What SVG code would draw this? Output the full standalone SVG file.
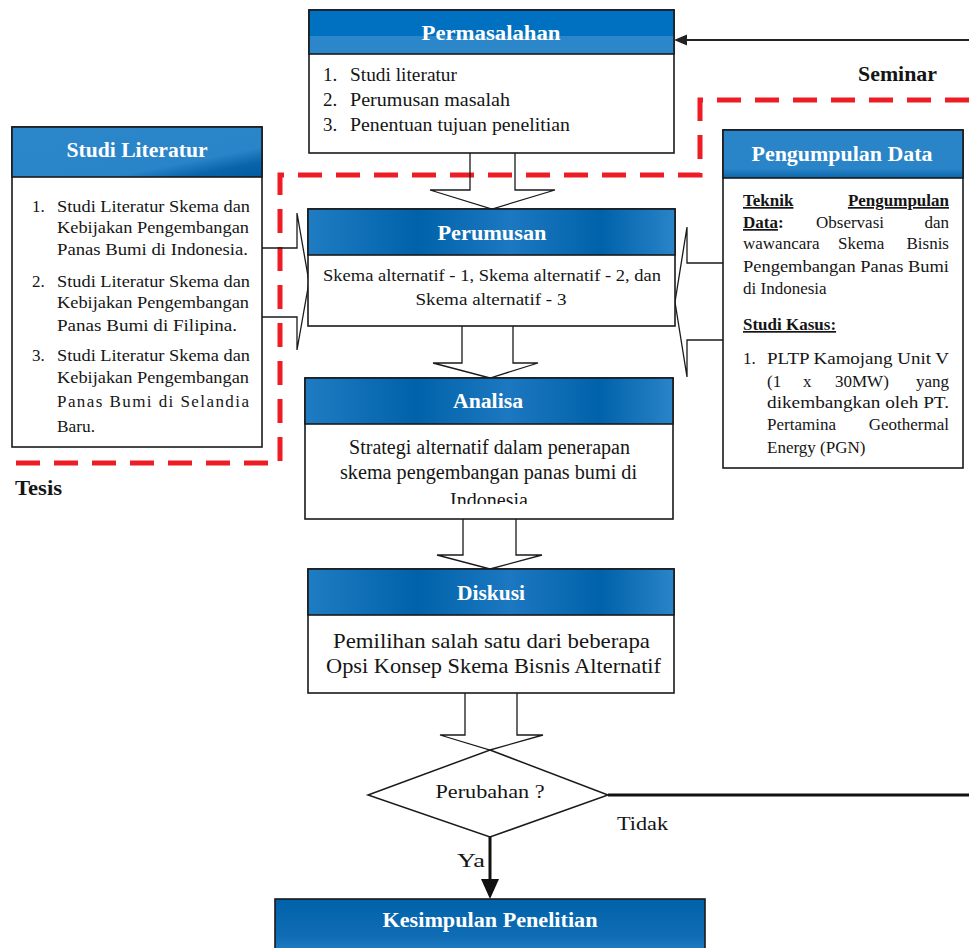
<svg xmlns="http://www.w3.org/2000/svg" width="969" height="948" viewBox="0 0 969 948">
<style>
.ttl{font-family:"Liberation Serif","Times New Roman",serif;font-weight:bold;fill:#fff;font-size:20px;text-anchor:middle}
.tx{font-family:"Liberation Serif","Times New Roman",serif;fill:#151515}
.b{font-weight:bold}
.u{text-decoration:underline}
.box{fill:#fff;stroke:#1a1a1a;stroke-width:1.6}
.hdl{stroke:#1a1a1a;stroke-width:1.6}
.blk{fill:none;stroke:#1a1a1a;stroke-width:1.3;stroke-linejoin:miter}
.red{fill:none;stroke:#EE1D25;stroke-width:5;stroke-dasharray:24 14}
</style>
<defs>
<linearGradient id="gPerm" x1="0" y1="0" x2="0" y2="1">
<stop offset="0" stop-color="#0070C0"/><stop offset="0.58" stop-color="#0070C0"/><stop offset="0.6" stop-color="#2C86CA"/><stop offset="1" stop-color="#2C86CA"/>
</linearGradient>
<linearGradient id="gLit" x1="0" y1="0" x2="1" y2="1">
<stop offset="0" stop-color="#2C86CA"/><stop offset="0.7" stop-color="#2A84C8"/><stop offset="0.85" stop-color="#0A64AA"/><stop offset="1" stop-color="#005BA2"/>
</linearGradient>
<linearGradient id="gPeng" x1="0" y1="0" x2="0" y2="1">
<stop offset="0" stop-color="#2A84C8"/><stop offset="0.8" stop-color="#2A84C8"/><stop offset="1" stop-color="#0A66AC"/>
</linearGradient>
<linearGradient id="gMid" x1="0" y1="0" x2="1" y2="0">
<stop offset="0" stop-color="#1F7CC2"/><stop offset="0.3" stop-color="#0062AA"/><stop offset="0.55" stop-color="#1C78C0"/><stop offset="0.8" stop-color="#0062AA"/><stop offset="1" stop-color="#2A84C8"/>
</linearGradient>
<linearGradient id="gKes" x1="0" y1="0" x2="0" y2="1">
<stop offset="0" stop-color="#0062AA"/><stop offset="0.6" stop-color="#0E6CB4"/><stop offset="1" stop-color="#2A84C8"/>
</linearGradient>
<clipPath id="clipAn"><rect x="305" y="378" width="368" height="126"/></clipPath>
</defs>
<rect x="0" y="0" width="969" height="948" fill="#fff"/>

<g id="connectors">
<path class="red" d="M969,100 H700 V175 H280 V463 H10"/>
<path d="M969,40 H684" stroke="#222" stroke-width="2"/>
<polygon points="674,40 687,34.5 687,45.5" fill="#222"/>
<path class="blk" d="M470,153 V190 H430 L492,209 L555,190 H515 V153"/>
<path class="blk" d="M262,248 H297 V213 L309,282 L297,350 V317 H262"/>
<path class="blk" d="M723,263 H687 V227 L675,302 L687,377 V340 H723"/>
<path class="blk" d="M462,326 V363 H433 L490,378 L538,363 H513 V326"/>
<path class="blk" d="M463,519 V555 H437 L490,569 L542,555 H516 V519"/>
<path class="blk" d="M465,693 V735 H440 L490,750 L543,735 H517 V693"/>
<path d="M608,795 H969" stroke="#111" stroke-width="3"/>
<path d="M490,837 V882" stroke="#111" stroke-width="3"/>
<polygon points="481,879 499,879 490,899" fill="#111"/>
</g>

<g id="permasalahan">
<rect class="box" x="309" y="10" width="365" height="143"/>
<rect x="309" y="10" width="365" height="44" fill="url(#gPerm)" stroke="#1a1a1a" stroke-width="1.6"/>
<text class="ttl" x="491" y="40" textLength="139" lengthAdjust="spacingAndGlyphs">Permasalahan</text>
<g class="tx" font-size="19">
<text x="323" y="81">1.</text><text x="350" y="81" textLength="107" lengthAdjust="spacingAndGlyphs">Studi literatur</text>
<text x="323" y="106">2.</text><text x="350" y="106" textLength="160" lengthAdjust="spacingAndGlyphs">Perumusan masalah</text>
<text x="323" y="131">3.</text><text x="350" y="131" textLength="220" lengthAdjust="spacingAndGlyphs">Penentuan tujuan penelitian</text>
</g>
</g>

<g id="studi-literatur">
<rect class="box" x="12" y="127" width="250" height="320"/>
<rect x="12" y="127" width="250" height="50" fill="url(#gLit)" stroke="#1a1a1a" stroke-width="1.6"/>
<text class="ttl" x="137" y="157" textLength="141" lengthAdjust="spacingAndGlyphs">Studi Literatur</text>
<g class="tx" font-size="17">
<text x="32" y="212">1.</text>
<text x="57" y="212" textLength="193" lengthAdjust="spacingAndGlyphs">Studi Literatur Skema dan</text>
<text x="57" y="233" textLength="192" lengthAdjust="spacingAndGlyphs">Kebijakan Pengembangan</text>
<text x="57" y="255" textLength="191" lengthAdjust="spacingAndGlyphs">Panas Bumi di Indonesia.</text>
<text x="32" y="287">2.</text>
<text x="57" y="287" textLength="193" lengthAdjust="spacingAndGlyphs">Studi Literatur Skema dan</text>
<text x="57" y="308" textLength="192" lengthAdjust="spacingAndGlyphs">Kebijakan Pengembangan</text>
<text x="57" y="331" textLength="180" lengthAdjust="spacingAndGlyphs">Panas Bumi di Filipina.</text>
<text x="32" y="361">3.</text>
<text x="57" y="361" textLength="193" lengthAdjust="spacingAndGlyphs">Studi Literatur Skema dan</text>
<text x="57" y="383" textLength="192" lengthAdjust="spacingAndGlyphs">Kebijakan Pengembangan</text>
<text x="57" y="407" textLength="192" lengthAdjust="spacing">Panas Bumi di Selandia</text>
<text x="57" y="432" textLength="38" lengthAdjust="spacingAndGlyphs">Baru.</text>
</g>
</g>

<g id="pengumpulan-data">
<rect class="box" x="723" y="130" width="240" height="338"/>
<rect x="723" y="130" width="240" height="48" fill="url(#gPeng)" stroke="#1a1a1a" stroke-width="1.6"/>
<text class="ttl" x="842" y="161" textLength="181" lengthAdjust="spacingAndGlyphs">Pengumpulan Data</text>
<g class="tx" font-size="17">
<text class="b u" x="743" y="206">Teknik</text>
<text class="b u" x="949" y="206" text-anchor="end">Pengumpulan</text>
<text class="b" x="743" y="228"><tspan class="u">Data</tspan>:</text>
<text x="816" y="228">Observasi</text>
<text x="949" y="228" text-anchor="end">dan</text>
<text x="743" y="249">wawancara</text>
<text x="838" y="249">Skema</text>
<text x="949" y="249" text-anchor="end">Bisnis</text>
<text x="743" y="272" textLength="206" lengthAdjust="spacingAndGlyphs">Pengembangan Panas Bumi</text>
<text x="743" y="294">di Indonesia</text>
<text class="b u" x="743" y="330">Studi Kasus:</text>
<text x="743" y="364">1.</text>
<text x="767" y="364" textLength="182" lengthAdjust="spacingAndGlyphs">PLTP Kamojang Unit V</text>
<text x="767" y="387">(1</text>
<text x="803" y="387">x</text>
<text x="835" y="387">30MW)</text>
<text x="949" y="387" text-anchor="end">yang</text>
<text x="767" y="408" textLength="182" lengthAdjust="spacingAndGlyphs">dikembangkan oleh PT.</text>
<text x="767" y="430">Pertamina</text>
<text x="949" y="430" text-anchor="end">Geothermal</text>
<text x="767" y="453">Energy (PGN)</text>
</g>
</g>

<g id="perumusan">
<rect class="box" x="308" y="209" width="367" height="117"/>
<rect x="308" y="209" width="367" height="46" fill="url(#gMid)" stroke="#1a1a1a" stroke-width="1.6"/>
<text class="ttl" x="492" y="240" textLength="109" lengthAdjust="spacingAndGlyphs">Perumusan</text>
<g class="tx" font-size="17">
<text x="323" y="281" textLength="338" lengthAdjust="spacingAndGlyphs">Skema alternatif - 1, Skema alternatif - 2, dan</text>
<text x="491" y="305" text-anchor="middle" textLength="151" lengthAdjust="spacingAndGlyphs">Skema alternatif - 3</text>
</g>
</g>

<g id="analisa">
<rect class="box" x="305" y="378" width="368" height="141"/>
<rect x="305" y="378" width="368" height="46" fill="url(#gMid)" stroke="#1a1a1a" stroke-width="1.6"/>
<text class="ttl" x="488" y="408" textLength="70" lengthAdjust="spacingAndGlyphs">Analisa</text>
<g class="tx" font-size="20" text-anchor="middle">
<text x="489.5" y="454" textLength="281" lengthAdjust="spacingAndGlyphs">Strategi alternatif dalam penerapan</text>
<text x="488.5" y="479" textLength="297" lengthAdjust="spacingAndGlyphs">skema pengembangan panas bumi di</text>
<text x="489" y="507" textLength="78" lengthAdjust="spacingAndGlyphs" clip-path="url(#clipAn)">Indonesia</text>
</g>
</g>

<g id="diskusi">
<rect class="box" x="308" y="569" width="366" height="124"/>
<rect x="308" y="569" width="366" height="46" fill="url(#gMid)" stroke="#1a1a1a" stroke-width="1.6"/>
<text class="ttl" x="491" y="600" textLength="68" lengthAdjust="spacingAndGlyphs">Diskusi</text>
<g class="tx" font-size="21" text-anchor="middle">
<text x="491.5" y="648" textLength="317" lengthAdjust="spacingAndGlyphs">Pemilihan salah satu dari beberapa</text>
<text x="493.5" y="673" textLength="335" lengthAdjust="spacingAndGlyphs">Opsi Konsep Skema Bisnis Alternatif</text>
</g>
</g>

<g id="perubahan">
<polygon points="490,750 608,795 490,837 368,795" fill="#fff" stroke="#1a1a1a" stroke-width="1.5"/>
<text class="tx" font-size="18" x="490" y="798" text-anchor="middle" textLength="109" lengthAdjust="spacingAndGlyphs">Perubahan ?</text>
</g>

<g id="kesimpulan">
<rect x="275" y="899" width="430" height="60" fill="url(#gKes)" stroke="#1a1a1a" stroke-width="1.6"/>
<text class="ttl" x="490" y="927" textLength="215" lengthAdjust="spacingAndGlyphs">Kesimpulan Penelitian</text>
</g>

<g id="labels" class="tx">
<text class="b" font-size="20" x="858" y="81" textLength="79" lengthAdjust="spacingAndGlyphs">Seminar</text>
<text class="b" font-size="20" x="15" y="495" textLength="47" lengthAdjust="spacingAndGlyphs">Tesis</text>
<text font-size="18" x="617" y="830" textLength="51" lengthAdjust="spacingAndGlyphs">Tidak</text>
<text font-size="18" x="457" y="867" textLength="28" lengthAdjust="spacingAndGlyphs">Ya</text>
</g>
</svg>
